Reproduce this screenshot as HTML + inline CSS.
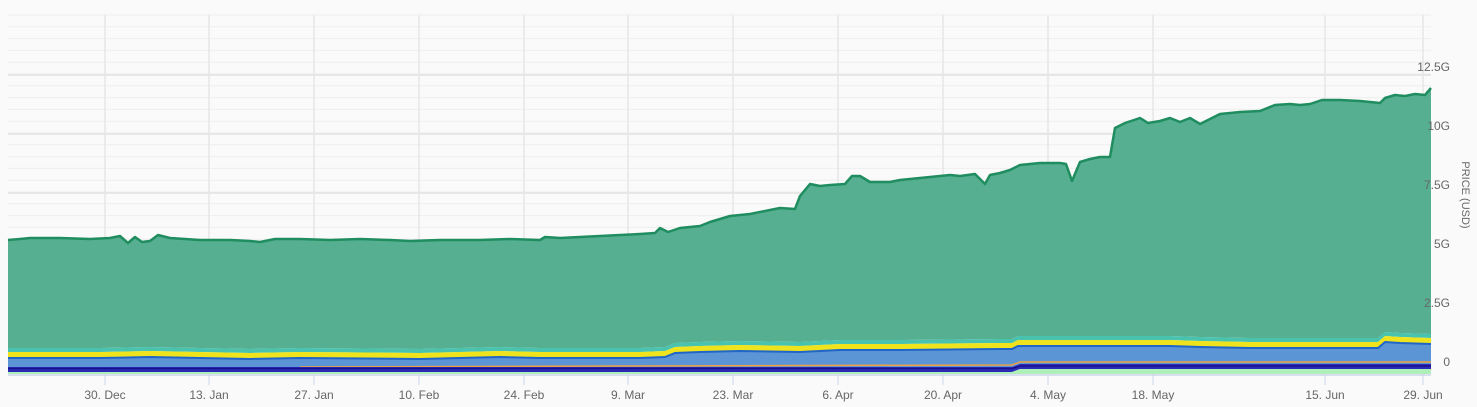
<!DOCTYPE html>
<html><head><meta charset="utf-8"><style>
body{margin:0;background:#fafafa;width:1477px;height:407px;overflow:hidden;font-family:"Liberation Sans",sans-serif}
svg{display:block}
text{fill:#666;font-size:12px;font-family:"Liberation Sans",sans-serif}
</style></head><body>
<svg id="s" width="1477" height="407" xmlns="http://www.w3.org/2000/svg">
<rect width="1477" height="407" fill="#fafafa"/>
<g id="grid"></g>
<g id="layers"></g>
<g id="labels"></g>
<line x1="8" y1="375" x2="1431" y2="375" stroke="#ccd6eb" stroke-width="1.5"/>
<text x="1462" y="195" transform="rotate(90 1462 195)" text-anchor="middle" style="font-size:11px">PRICE (USD)</text>
</svg>
<script>
(function(){
const NS="http://www.w3.org/2000/svg";
function el(p,t,a){const e=document.createElementNS(NS,t);for(const k in a)e.setAttribute(k,a[k]);document.getElementById(p).appendChild(e);return e;}
for(let y=15;y<=372;y+=11.8){el('grid','line',{x1:8,x2:1431,y1:y,y2:y,stroke:'#eeeeee','stroke-width':1});}
const ylab=[["12.5G",75],["10G",134],["7.5G",193],["5G",252],["2.5G",311],["0",370]];
ylab.forEach(function(d){el('grid','line',{x1:8,x2:1431,y1:d[1],y2:d[1],stroke:'#e2e2e2','stroke-width':1.5});const e=el('labels','text',{x:1450,y:d[1]-4,'text-anchor':'end'});e.textContent=d[0];});
const xt=[["30. Dec",105],["13. Jan",209],["27. Jan",314],["10. Feb",419],["24. Feb",524],["9. Mar",628],["23. Mar",733],["6. Apr",838],["20. Apr",943],["4. May",1048],["18. May",1153],["15. Jun",1325],["29. Jun",1423]];
xt.forEach(function(d){const x=d[1];el('grid','line',{x1:x,x2:x,y1:15,y2:375,stroke:'#e6e6e6','stroke-width':1.5});el('labels','line',{x1:x,x2:x,y1:375,y2:385,stroke:'#ccd6eb','stroke-width':1});const e=el('labels','text',{x:x,y:399,'text-anchor':'middle'});e.textContent=d[0];});
const TOPL=[[8,240],[20,239],[30,238],[60,238],[90,239],[110,238],[120,236],[128,243],[135,237],[142,242],[150,241],[158,235],[170,238],[200,240],[230,240],[250,241],[260,242],[275,239],[300,239],[330,240],[360,239],[390,240],[410,241],[440,240],[480,240],[510,239],[540,240],[545,237],[560,238],[580,237],[600,236],[620,235],[640,234],[655,233],[660,228],[668,232],[680,228],[700,226],[710,222],[730,216],[750,214],[770,210],[780,208],[795,209],[800,196],[810,184],[820,186],[830,185],[845,184],[852,176],[860,176],[870,182],[890,182],[900,180],[910,179],[930,177],[950,175],[960,176],[975,174],[985,184],[990,175],[1000,173],[1010,170],[1020,165],[1040,163],[1060,163],[1066,164],[1072,181],[1080,162],[1090,159],[1100,157],[1110,157],[1115,128],[1125,123],[1140,118],[1148,123],[1160,121],[1170,118],[1180,122],[1190,118],[1200,124],[1210,119],[1220,114],[1240,112],[1260,111],[1275,105],[1290,104],[1300,105],[1310,104],[1322,100],[1340,100],[1360,101],[1370,102],[1380,103],[1385,98],[1395,95],[1405,96],[1415,94],[1425,95],[1431,88]];
const L=[[8,358],[100,358],[150,357],[250,359],[300,358],[420,359],[500,357],[540,358],[640,358],[665,357],[675,353],[700,352],[740,351],[800,352],[840,350],[900,350],[1000,349],[1012,349],[1018,346],[1100,346],[1170,346],[1200,347],[1250,348],[1300,348],[1360,348],[1378,348],[1385,342],[1400,343],[1431,344]];
function pts(a,d){return a.map(function(p){return p[0]+","+(p[1]+d);}).join(" ");}
function band(a,d1,b,d2,fill){const rev=b.slice().reverse();el('layers','polygon',{points:pts(a,d1)+" "+pts(rev,d2),fill:fill});}
band(TOPL,0,L,-10,'#56af91');
band(L,-10,L,-6,'#49c2ae');
band(L,-6,L,0,'#eee31c');
band(L,0,[[8,367],[1012,367],[1020,364],[1431,364]],0,'#5b95d6');
el('layers','polyline',{points:pts(L,0),fill:'none',stroke:'#2066c8','stroke-width':2});
el('layers','polyline',{points:pts(TOPL,0),fill:'none',stroke:'#1f8d5f','stroke-width':2.5,'stroke-linejoin':'round'});
el('layers','polyline',{points:"300,367 620,366 1012,365 1020,362 1431,362",fill:'none',stroke:'#f0a040','stroke-width':1.5});
el('layers','polygon',{points:"8,367 1012,367 1020,364 1431,364 1431,369 1020,369 1012,372 8,372",fill:'#2a2ab8'});
el('layers','polyline',{points:"8,368.5 1012,368.5 1020,366 1431,366",fill:'none',stroke:'#1a0f8a','stroke-width':1.5});
el('layers','polygon',{points:"1012,372 1020,369 1431,369 1431,374 8,374 8,372",fill:'#aef0b8'});
})();
</script>
</body></html>
